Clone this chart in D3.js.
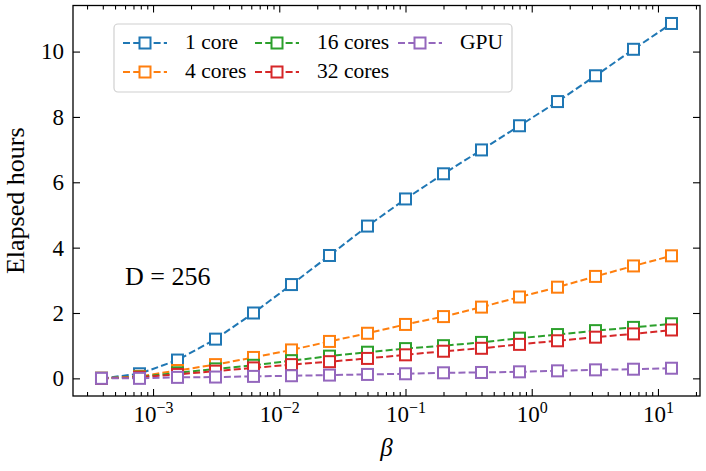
<html>
<head>
  <meta charset="utf-8" />
  <script src="https://cdnjs.cloudflare.com/ajax/libs/d3/7.8.5/d3.min.js"></script>
  <style>
    body { margin: 0; background: #fff; }
    svg text { font-family: "Liberation Serif", "DejaVu Serif", serif; fill: #000; }
    .axis path.domain { stroke: none; }
    .axis line { stroke: #000; stroke-width: 1.1; }
  </style>
</head>
<body>
  <svg width="706" height="471"></svg>
  <script>
    // beta values (x) and elapsed hours per configuration
    var betas = [3.90625e-4, 7.8125e-4, 1.5625e-3, 3.125e-3, 6.25e-3, 0.0125, 0.025, 0.05,
                 0.1, 0.2, 0.4, 0.8, 1.6, 3.2, 6.4, 12.8]
    var oneCore   = [0, 0.14, 0.56, 1.20, 2.00, 2.87, 3.76, 4.66, 5.49, 6.26, 6.99, 7.73, 8.47, 9.26, 10.07, 10.86]
    var fourCores = [0, 0.06, 0.24, 0.42, 0.64, 0.87, 1.13, 1.38, 1.65, 1.89, 2.18, 2.49, 2.79, 3.12, 3.44, 3.75]
    var sixteen   = [0, 0.04, 0.17, 0.29, 0.40, 0.54, 0.68, 0.80, 0.91, 1.00, 1.10, 1.23, 1.34, 1.46, 1.56, 1.67]
    var thirtyTwo = [0, 0.03, 0.12, 0.22, 0.32, 0.42, 0.51, 0.61, 0.72, 0.83, 0.92, 1.04, 1.15, 1.26, 1.36, 1.48]
    var gpu       = [0, 0.00, 0.03, 0.04, 0.06, 0.08, 0.10, 0.12, 0.14, 0.17, 0.18, 0.20, 0.23, 0.26, 0.28, 0.31]

    var seriesNames = ["1 core", "4 cores", "16 cores", "32 cores", "GPU"]
    var seriesValues = [oneCore, fourCores, sixteen, thirtyTwo, gpu]
    var seriesColors = ["#1f77b4", "#ff7f0e", "#2ca02c", "#d62728", "#9467bd"]

    var xMajor = [1e-3, 1e-2, 1e-1, 1, 10]
    var xMajorExp = ["\u22123", "\u22122", "\u22121", "0", "1"]
    var yTicks = [0, 2, 4, 6, 8, 10]

    var padL = 73, padR = 700, padT = 5.5, padB = 396

    var x = d3.scaleLog()
      .domain([Math.pow(10, -3.634), Math.pow(10, 1.333)])
      .range([padL, padR])
    var y = d3.scaleLinear()
      .domain([-0.54, 11.41])
      .range([padB, padT])

    var svg = d3.select("svg")

    // minor ticks for the log axis
    var xMinor = []
    for (var e = -4; e <= 1; e++) {
      for (var m = 2; m <= 9; m++) {
        var v = m * Math.pow(10, e)
        if (v > x.domain()[0] && v < x.domain()[1]) xMinor.push(v)
      }
    }

    // bottom axis
    var bAxis = svg.append("g")
      .attr("class", "axis")
      .attr("transform", "translate(0," + padB + ")")
      .call(d3.axisBottom(x).tickValues(xMajor).tickSize(-7).tickPadding(8).tickFormat(""))
    bAxis.selectAll(".tick text")
      .each(function(d, i) {
        var t = d3.select(this).attr("dy", null).attr("y", 26).style("font-size", "23px")
        t.append("tspan").text("10")
        t.append("tspan").attr("dy", -9).style("font-size", "16px").text(xMajorExp[i])
      })
    svg.append("g")
      .attr("class", "axis")
      .attr("transform", "translate(0," + padB + ")")
      .call(d3.axisBottom(x).tickValues(xMinor).tickSize(-4).tickFormat(""))

    // top axis (ticks only)
    svg.append("g")
      .attr("class", "axis")
      .attr("transform", "translate(0," + padT + ")")
      .call(d3.axisTop(x).tickValues(xMajor).tickSize(-7).tickFormat(""))
    svg.append("g")
      .attr("class", "axis")
      .attr("transform", "translate(0," + padT + ")")
      .call(d3.axisTop(x).tickValues(xMinor).tickSize(-4).tickFormat(""))

    // left / right axes
    svg.append("g")
      .attr("class", "axis")
      .attr("transform", "translate(" + padL + ",0)")
      .call(d3.axisLeft(y).tickValues(yTicks).tickSize(-7).tickPadding(9))
      .selectAll(".tick text").style("font-size", "23px")
    svg.append("g")
      .attr("class", "axis")
      .attr("transform", "translate(" + padR + ",0)")
      .call(d3.axisRight(y).tickValues(yTicks).tickSize(-7).tickFormat(""))

    // frame
    svg.append("rect")
      .attr("x", padL).attr("y", padT)
      .attr("width", padR - padL).attr("height", padB - padT)
      .style("fill", "none").style("stroke", "#000").style("stroke-width", 1.3)

    // series
    var line = d3.line()
      .x(function(d, i) { return x(betas[i]) })
      .y(function(d) { return y(d) })
    var ms = 11

    seriesValues.forEach(function(vals, s) {
      var g = svg.append("g")
      g.append("path")
        .attr("d", line(vals))
        .style("fill", "none")
        .style("stroke", seriesColors[s])
        .style("stroke-width", 2)
        .style("stroke-dasharray", "7,3.2")
      g.selectAll("rect")
        .data(vals)
        .enter()
        .append("rect")
          .attr("x", function(d, i) { return x(betas[i]) - ms / 2 })
          .attr("y", function(d) { return y(d) - ms / 2 })
          .attr("width", ms).attr("height", ms)
          .style("fill", "#fff")
          .style("stroke", seriesColors[s])
          .style("stroke-width", 2)
    })

    // legend
    var leg = svg.append("g")
    leg.append("rect")
      .attr("x", 114).attr("y", 24).attr("width", 398).attr("height", 68)
      .attr("rx", 4)
      .style("fill", "rgba(255,255,255,0.8)").style("stroke", "#d0d0d0").style("stroke-width", 1.2)
    var colX = [123, 255, 398]
    var rowY = [43, 72]
    seriesNames.forEach(function(name, s) {
      var cx = colX[Math.floor(s / 2)], cy = rowY[s % 2]
      var item = leg.append("g").attr("transform", "translate(" + cx + "," + cy + ")")
      item.append("line")
        .attr("x1", 0).attr("x2", 44).attr("y1", 0).attr("y2", 0)
        .style("stroke", seriesColors[s]).style("stroke-width", 2)
        .style("stroke-dasharray", "7,3.2")
      item.append("rect")
        .attr("x", 22 - ms / 2).attr("y", -ms / 2).attr("width", ms).attr("height", ms)
        .style("fill", "#fff").style("stroke", seriesColors[s]).style("stroke-width", 2)
      item.append("text")
        .attr("x", 62).attr("y", 6)
        .style("font-size", "21.5px")
        .text(name)
    })

    // annotation
    svg.append("text")
      .attr("x", 125).attr("y", 285)
      .style("font-size", "26px")
      .text("D = 256")

    // axis labels
    svg.append("text")
      .attr("transform", "translate(24," + ((padT + padB) / 2) + ") rotate(-90)")
      .attr("text-anchor", "middle")
      .style("font-size", "26px")
      .text("Elapsed hours")
    svg.append("text")
      .attr("x", (padL + padR) / 2).attr("y", 456)
      .attr("text-anchor", "middle")
      .style("font-size", "25px").style("font-style", "italic")
      .text("\u03b2")
  </script>
</body>
</html>
